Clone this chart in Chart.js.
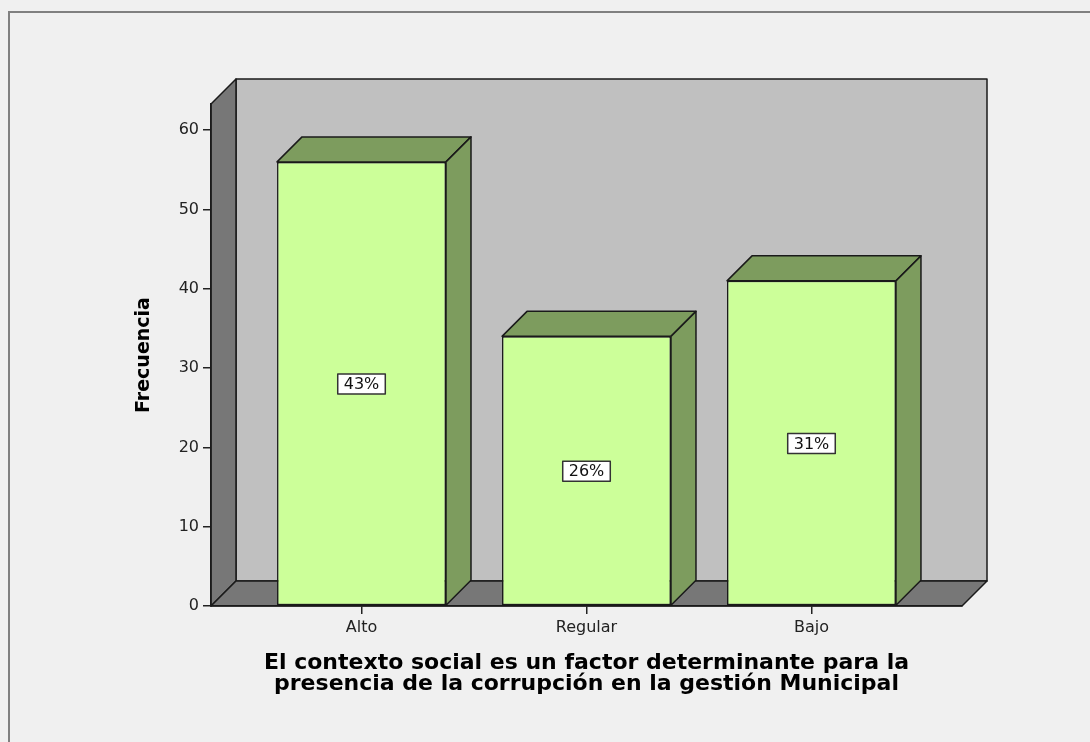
<!DOCTYPE html>
<html><head><meta charset="utf-8">
<script src="https://cdn.jsdelivr.net/npm/chart.js@4"></script>
<style>html,body{margin:0;padding:0;background:#f0f0f0;overflow:hidden}</style>
</head><body>
<canvas id="c" width="1090" height="742"></canvas>
<script>
// ---- data ----
const categories = ['Alto', 'Regular', 'Bajo'];
const frequencies = [56, 34, 41];
const percentLabels = ['43%', '26%', '31%'];
const yTicks = [0, 10, 20, 30, 40, 50, 60];
const xTitle = ['El contexto social es un factor determinante para la', 'presencia de la corrupción en la gestión Municipal'];
const yTitle = 'Frecuencia';

// ---- layout / style constants ----
const DEPTH = 25;          // 3D depth in px
const WALL_MAX = 63.3;     // value at top of the front wall edge
const X_PAD = 0.669;       // extra category units of floor left/right of outer bars
const FONT = "'DejaVu Sans', Verdana, sans-serif";

const threeD = {
  id: 'threeD',
  beforeDraw(chart) {
    const ctx = chart.ctx;
    const {left, right, top, bottom} = chart.chartArea;
    const d = DEPTH;
    ctx.save();
    ctx.fillStyle = '#f0f0f0';
    ctx.fillRect(0, 0, chart.width, chart.height);
    // frame
    ctx.strokeStyle = '#808080';
    ctx.lineWidth = 2;
    ctx.beginPath();
    ctx.moveTo(9, 742); ctx.lineTo(9, 12); ctx.lineTo(1090, 12);
    ctx.stroke();
    ctx.lineJoin = 'round';
    ctx.lineWidth = 1.5;
    ctx.strokeStyle = '#1a1a1a';
    // back wall
    ctx.fillStyle = '#c0c0c0';
    ctx.beginPath();
    ctx.rect(left + d, top - d, right - left, bottom - top);
    ctx.fill(); ctx.stroke();
    // left wall
    ctx.fillStyle = '#777777';
    ctx.beginPath();
    ctx.moveTo(left, top); ctx.lineTo(left + d, top - d); ctx.lineTo(left + d, bottom - d); ctx.lineTo(left, bottom); ctx.closePath();
    ctx.fill(); ctx.stroke();
    // floor
    ctx.beginPath();
    ctx.moveTo(left, bottom); ctx.lineTo(left + d, bottom - d); ctx.lineTo(right + d, bottom - d); ctx.lineTo(right, bottom); ctx.closePath();
    ctx.fill(); ctx.stroke();
    ctx.restore();
  },
  afterDatasetsDraw(chart) {
    const ctx = chart.ctx;
    const d = DEPTH;
    const meta = chart.getDatasetMeta(0);
    const yScale = chart.scales.y;
    ctx.save();
    ctx.lineJoin = 'round';
    ctx.lineWidth = 1.5;
    ctx.strokeStyle = '#1a1a1a';
    ctx.fillStyle = '#7d9c5e';
    meta.data.forEach((bar, i) => {
      const p = bar.getProps(['x', 'y', 'base', 'width'], true);
      const l = p.x - p.width / 2, r = p.x + p.width / 2;
      // top face
      ctx.beginPath();
      ctx.moveTo(l, p.y); ctx.lineTo(l + d, p.y - d); ctx.lineTo(r + d, p.y - d); ctx.lineTo(r, p.y); ctx.closePath();
      ctx.fill(); ctx.stroke();
      // side face
      ctx.beginPath();
      ctx.moveTo(r, p.y); ctx.lineTo(r + d, p.y - d); ctx.lineTo(r + d, p.base - d); ctx.lineTo(r, p.base); ctx.closePath();
      ctx.fill(); ctx.stroke();
    });
    // percentage labels
    ctx.font = '16px ' + FONT;
    ctx.textAlign = 'center';
    ctx.textBaseline = 'middle';
    meta.data.forEach((bar, i) => {
      const cx = bar.x;
      const cy = yScale.getPixelForValue(frequencies[i] / 2);
      const txt = percentLabels[i];
      const w = ctx.measureText(txt).width + 12;
      const h = 20;
      ctx.fillStyle = '#ffffff';
      ctx.strokeStyle = '#333333';
      ctx.lineWidth = 1.5;
      ctx.fillRect(cx - w / 2, cy - h / 2, w, h);
      ctx.strokeRect(cx - w / 2, cy - h / 2, w, h);
      ctx.fillStyle = '#111111';
      ctx.fillText(txt, cx, cy + 1);
    });
    ctx.restore();
  }
};

new Chart(document.getElementById('c'), {
  type: 'bar',
  data: {
    datasets: [{
      data: frequencies.map((v, i) => ({x: i, y: v})),
      backgroundColor: '#ccff99',
      borderColor: '#1a1a1a',
      borderWidth: 1.5,
      borderSkipped: false,
      categoryPercentage: 1,
      barPercentage: 0.751
    }]
  },
  options: {
    responsive: false,
    animation: false,
    events: [],
    layout: {padding: {left: 128.6, right: 128, top: 104, bottom: 47.5}},
    plugins: {legend: {display: false}, tooltip: {enabled: false}},
    scales: {
      x: {
        type: 'linear',
        offset: false,
        min: -X_PAD,
        max: categories.length - 1 + X_PAD,
        afterBuildTicks: s => { s.ticks = categories.map((c, i) => ({value: i})); },
        afterFit: s => { s.height = 88.5; },
        grid: {offset: false, drawOnChartArea: false, color: '#222', tickLength: 8, lineWidth: 1.5},
        border: {display: true, color: '#1a1a1a', width: 1.5},
        ticks: {
          autoSkip: false, maxRotation: 0, padding: 4,
          color: '#222', font: {family: FONT, size: 16},
          callback: v => categories[v]
        },
        title: {
          display: true, text: xTitle, color: '#000',
          font: {family: FONT, size: 22, weight: 'bold', lineHeight: '21px'},
          padding: {top: 0, bottom: 0}
        }
      },
      y: {
        min: 0,
        max: WALL_MAX,
        afterBuildTicks: s => { s.ticks = yTicks.map(v => ({value: v})); },
        afterFit: s => { s.width = 82.4; },
        grid: {drawOnChartArea: false, color: '#222', tickLength: 8, lineWidth: 1.5},
        border: {display: true, color: '#1a1a1a', width: 1.5},
        ticks: {padding: 4, color: '#222', font: {family: FONT, size: 16}},
        title: {
          display: true, text: yTitle, color: '#000',
          font: {family: FONT, size: 19, weight: 'bold'},
          padding: {top: 4, bottom: 0}
        }
      }
    }
  },
  plugins: [threeD]
});
</script>
</body></html>
